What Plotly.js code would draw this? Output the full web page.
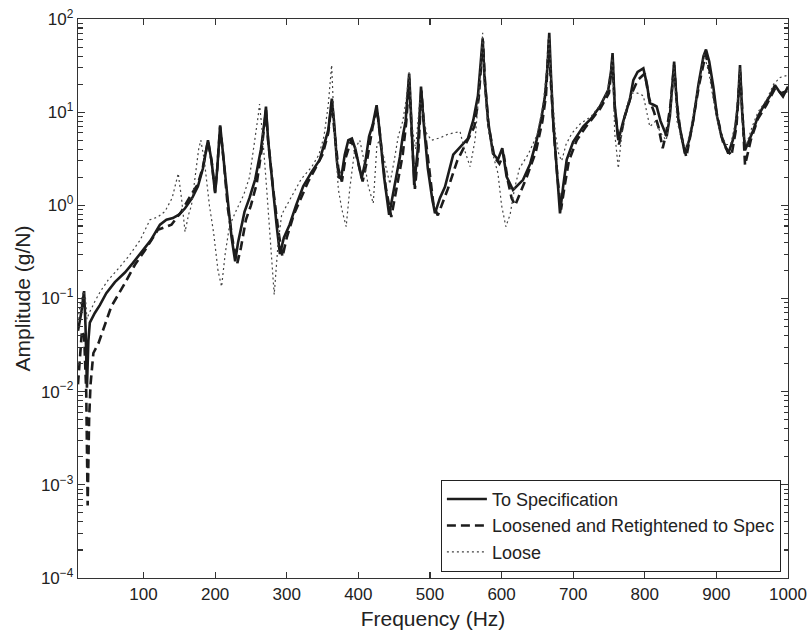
<!DOCTYPE html>
<html>
<head>
<meta charset="utf-8">
<script src="https://cdn.plot.ly/plotly-3.0.1.min.js"></script>
<style>html,body{margin:0;padding:0;background:#fff;}#chart{width:812px;height:634px;}</style>
</head>
<body>
<div id="chart"></div>
<script>
// To Specification
const specFreq = [8.5,13,17,19,21,23,25,32,39,48,60,74,85,97,110,123,132,141,150,158,168,176,183,190,195,200,203,207,212,218,223,228,232,241,248,256,264,269,271,274,280,286,290.5,296,304,313,323,335,346,352,358,363,366,370,373,376,381,386,391,396,401,404.6,410,415,420,425.5,430,436,443,450,458,462,466,471,475,478,483,487.5,491,497,503,507,514,521,532.5,545,553,560.5,567,571,573.6,576,581,588,595,601,607,616,630,640,649,656,660.6,664,666.6,669,672,677,681.6,686,691,700,714,725,737,749,753,755,758,763,770,779,784,790,798,803,807,812,816.6,822,830.6,835,838,841,844,847,856,862,867.7,875,882,885.5,890,895.7,901,907,916.6,923,926,930,933,936,940,946,951.5,958,965.5,975,981.8,987,993,1000];
const specAmp = [0.045,0.07,0.12,0.05,0.011,0.035,0.055,0.07,0.085,0.114,0.15,0.19,0.24,0.31,0.42,0.62,0.7,0.73,0.8,0.93,1.2,1.6,2.5,5.0,3.0,1.35,2.5,7.2,3.0,1.0,0.45,0.25,0.4,0.85,1.2,1.9,4,8,11.5,5,1.6,0.6,0.3,0.45,0.62,1.0,1.6,2.3,3.07,4.5,6.4,14,8,3,2.0,1.95,3.5,5.0,5.2,4,2.5,1.95,3,5.5,7.3,11.9,6,2,0.79,1.5,3.3,5.5,8,26,5,1.66,4,18.8,8,2.5,1.2,0.82,1.2,1.58,3.5,4.5,5.2,8.2,15,35,62,25,8.2,3.6,3.1,4.1,2.04,1.46,1.88,2.8,5.0,9,14.7,30,71,25,8.2,2.5,0.82,1.6,3.1,4.8,7.0,8.5,11.4,17.4,28,43,12,5.0,8,13.5,22,27,29.5,20,12.5,12,11.5,8,5.5,9,20,35,15,8.2,3.6,5,8.2,20,40,47,35,18.8,9,5.5,3.6,5,6.4,12,32,10,3.9,5,6.4,9,11.5,15,19.5,17,14.7,18.8];

// Loosened and Retightened to Spec
const retFreq = [8.5,11,14,17,20,22,24,26,30,37,45,55,74,88,102,120,139,153,165,176,183,190,195,200,203,207,212,218,225,231,236,243,250,258,265,271,274,281,288,294,300,310,320,330,340,350,358,363,366,372,377,382,390,397,406,412,420,426,431,438,446,454,462,467,471,475,479,484,488,492,500,505,511,518,525,538,550,562,568,572,574,577,582,590,597,603,609,614,619,625,635,648,657,662,666,669,673,678,683,688,694,705,718,738,750,755,758,764,772,782,790,800,806,813,819,825,830,836,841,845,850,858,866,876,885,892,900,910,921,928,933,937,940,948,958,970,982,990,1000];
const retAmp = [0.012,0.02,0.045,0.04,0.01,0.0006,0.005,0.012,0.026,0.033,0.05,0.082,0.146,0.23,0.33,0.545,0.62,0.86,1.24,1.7,2.6,4.9,3.0,1.4,2.5,7.0,3.0,0.9,0.4,0.24,0.35,0.7,1.0,1.7,4,10.5,5,1.5,0.55,0.28,0.45,0.8,1.2,1.8,2.5,3.5,6,13,7,2.5,1.8,3.2,5.0,3.5,1.8,3,7,11,5,1.6,0.75,1.6,3.5,8,23,5,1.5,4,17,7,2,1.0,0.78,1.1,1.5,3.0,4.5,7,14,35,58,20,7,3.3,2.8,3.5,1.8,1.2,1.0,1.3,2,3.8,8,15,60,20,6,2,0.9,1.6,3,5,7,11,16,38,11,4.5,9,16,22,26,14,10,7,4.1,6,12,32,12,6,3.3,7,20,42,25,10,4.5,3.4,7,28,8,2.7,5,8.5,12,18,16,17];

// Loose
const looseFreq = [8.5,12,16,19,21,24,28,32,40,50.7,65,78.6,95,109,120,130,140,148.5,153,158,163,167,172,177,180,185,192,198,204,209,214,220,230,240,248,255,260,262,266,272,278,282.5,288,293,300,310,320,335,345,352,358,362.7,366,372,377,383,388,395,402,408,414,420.8,426,430,437,444,450,455.7,462,467,471,475,480,486,490,495,502,514,525,535,542,548,556,563,568,573.6,576,581,588,595,600,606,612,618,625,637,650,658,663,666.6,670,675,680,684,690,698,710,725,738,748,753,755,758,763,768,775,782,790,798,807,815,822,830,836,841,845,852,858,866,874,883,890,897,905,914,920,927,933,937,942,950,958,970,980,989,1000];
const looseAmp = [0.06,0.09,0.12,0.1,0.06,0.07,0.08,0.093,0.12,0.158,0.21,0.28,0.42,0.7,0.75,0.86,1.2,2.2,1.2,0.52,0.8,1.0,2,4,5.0,3,1.0,0.5,0.2,0.134,0.3,0.6,0.9,1.3,2.0,4.5,9,12.2,6,1.5,0.3,0.11,0.4,0.8,1.0,1.4,1.9,2.6,3.5,5.5,12,32,8,1.5,0.9,0.59,1.5,4,5,3,1.6,1.05,4.5,5,2.8,1.7,3,5.5,8,14,27,7,4,14,10,6,5,5.3,5.8,6,6.2,4,2.6,5,15,71,20,7,3.5,2.2,1.0,0.59,0.8,1.5,2.5,3.5,5.8,12,28,65,20,6,3.5,3.0,4.5,5.9,7.5,9,12,17,28,38,6,2.5,6,12,16,16,15,7,8,6,5,10,30,8,5,4,8,18,42,25,12,6,4.5,4.5,8,30,6,4.5,7,10,13.5,20,23.6,25];

const seriesNames = ['To Specification','Loosened and Retightened to Spec','Loose'];
const yTickVals = [1e-4,1e-3,1e-2,1e-1,1,10,100];
const yTickText = ['10<sup>\u22124</sup>','10<sup>\u22123</sup>','10<sup>\u22122</sup>','10<sup>\u22121</sup>','10<sup>0</sup>','10<sup>1</sup>','10<sup>2</sup>'];
const xTickVals = [100,200,300,400,500,600,700,800,900,1000];

// minor log ticks 2..9 in every decade
const yMinorVals = [];
for (let e = -4; e < 2; e++) for (let d = 2; d <= 9; d++) yMinorVals.push(d * Math.pow(10, e));

const traces = [
  {x: specFreq, y: specAmp, name: seriesNames[0], type:'scatter', mode:'lines',
   line:{color:'#1c1c1c', width:2.6}},
  {x: retFreq, y: retAmp, name: seriesNames[1], type:'scatter', mode:'lines',
   line:{color:'#1c1c1c', width:2.6, dash:'9px,5px'}},
  {x: looseFreq, y: looseAmp, name: seriesNames[2], type:'scatter', mode:'lines',
   line:{color:'#444', width:1.2, dash:'2px,3px'}}
];

const font = 'Liberation Sans, Arial, Helvetica, sans-serif';
const layout = {
  width: 812, height: 634,
  margin: {l:78, r:24, t:19, b:56},
  paper_bgcolor:'#fff', plot_bgcolor:'#fff',
  font: {family: font, size: 17, color:'#222'},
  showlegend: true,
  legend: {x:0.99, y:0.011, xanchor:'right', yanchor:'bottom',
    bgcolor:'#fff', bordercolor:'#222', borderwidth:1,
    font:{family:font, size:18, color:'#222'}, tracegroupgap:0, itemwidth:40},
  xaxis: {range:[8.5,1000], tickmode:'array', tickvals:xTickVals,
    ticks:'inside', ticklen:6, tickwidth:1.2, tickcolor:'#333', showline:true, linecolor:'#333', linewidth:1.2,
    mirror:'ticks', showgrid:false, zeroline:false,
    tickfont:{family:font, size:17, color:'#222'},
    title:{text:'Frequency (Hz)', font:{family:font, size:21, color:'#222'}, standoff:8}},
  yaxis: {type:'log', range:[-4,2], tickmode:'array', tickvals:yTickVals, ticktext:yTickText,
    ticks:'inside', ticklen:7, tickwidth:1.2, tickcolor:'#333', showline:true, linecolor:'#333', linewidth:1.2,
    mirror:'ticks', showgrid:false, zeroline:false,
    minor:{tickmode:'array', tickvals:yMinorVals, ticks:'inside', ticklen:4.5, tickwidth:1.1, tickcolor:'#333', showgrid:false},
    tickfont:{family:font, size:17, color:'#222'},
    title:{text:'Amplitude (g/N)', font:{family:font, size:21, color:'#222'}, standoff:4}}
};
Plotly.newPlot('chart', traces, layout, {staticPlot:true, displayModeBar:false});
</script>
</body>
</html>
